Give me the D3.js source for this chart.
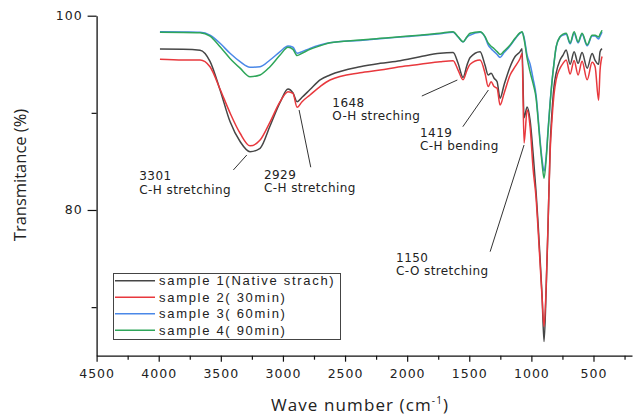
<!DOCTYPE html>
<html>
<head>
<meta charset="utf-8">
<script src="https://cdn.jsdelivr.net/npm/d3@7"></script>
<style>
  body { margin: 0; background: #fff; }
</style>
</head>
<body>
  <script>

  // wave numbers (cm-1) shared by all four spectra
    const wavenumber = [3990, 3804, 3667, 3587, 3506, 3426, 3345, 3265, 3184, 3104,
                        3023, 2959, 2919, 2886, 2846, 2782, 2701, 2621, 2379, 2218,
                        2057, 1896, 1735, 1630, 1590, 1550, 1518, 1493, 1413, 1373,
                        1348, 1324, 1300, 1276, 1252, 1220, 1171, 1131, 1091, 1075,
                        1059, 1034, 1010, 986, 962, 946, 930, 914, 898, 881,
                        865, 849, 833, 817, 801, 769, 745, 720, 688, 656,
                        624, 592, 551, 511, 487, 459, 447, 431];

  // transmitance (%) of each sample
    const sample1 = [96.57, 96.55, 96.45, 95.3, 92.35, 89.1, 87.05, 86.0, 86.35, 88.65,
                     91.07, 92.45, 92.05, 91.15, 91.6, 92.4, 93.4, 93.9, 94.75, 95.1,
                     95.37, 95.78, 96.13, 96.2, 95.1, 93.65, 94.93, 95.7, 96.3, 94.9,
                     93.9, 94.07, 93.56, 93.2, 91.5, 92.87, 94.75, 95.8, 96.3, 96.6,
                     89.5, 90.6, 89.2, 85.8, 81.8, 78.6, 75.0, 71.2, 66.45, 71.8,
                     78.8, 86.5, 90.3, 92.8, 94.07, 95.44, 95.95, 96.47, 95.0, 96.3,
                     95.1, 96.2, 94.6, 96.1, 95.4, 95.0, 96.3, 96.6];

    const sample2 = [95.51, 95.44, 95.45, 94.75, 92.43, 90.0, 87.9, 86.6, 87.2, 89.05,
                     91.15, 92.18, 92.0, 90.57, 91.15, 91.84, 92.7, 93.38, 94.13, 94.4,
                     94.75, 95.0, 95.27, 95.37, 94.4, 93.4, 94.4, 95.0, 95.44, 94.07,
                     92.7, 93.2, 92.7, 92.53, 90.8, 92.0, 93.9, 94.75, 95.6, 96.1,
                     86.9, 90.3, 88.5, 84.2, 81.2, 78.0, 74.5, 71.0, 68.0, 72.1,
                     79.0, 86.0, 89.5, 92.0, 93.4, 94.6, 95.1, 95.44, 94.0, 95.4,
                     93.9, 95.3, 93.4, 95.2, 94.75, 91.3, 94.4, 95.8];

    const sample3 = [98.35, 98.32, 98.29, 98.0, 97.16, 96.13, 95.27, 94.69, 94.75, 95.44,
                     96.3, 96.88, 96.75, 96.13, 96.3, 96.64, 96.98, 97.22, 97.45, 97.62,
                     97.8, 97.95, 98.15, 98.3, 97.8, 97.3, 97.8, 98.0, 98.3, 97.8,
                     97.0, 96.6, 96.3, 96.0, 95.7, 96.2, 96.9, 97.6, 98.2, 98.3,
                     97.8, 95.9, 95.0, 93.5, 91.8, 89.6, 87.2, 85.2, 84.0, 85.5,
                     88.4, 91.1, 93.4, 95.2, 96.7, 97.8, 98.0, 98.1, 97.1, 98.2,
                     97.2, 98.1, 96.9, 97.9, 97.9, 97.6, 97.9, 98.3];

    const sample4 = [98.29, 98.28, 98.25, 97.9, 96.8, 95.6, 94.6, 93.72, 93.9, 94.75,
                     95.95, 96.75, 96.54, 95.9, 96.13, 96.54, 96.9, 97.22, 97.5, 97.67,
                     97.84, 98.0, 98.19, 98.35, 97.84, 97.32, 97.84, 98.19, 98.35, 97.84,
                     97.2, 96.85, 96.6, 96.3, 96.0, 96.35, 96.98, 97.67, 98.25, 98.35,
                     97.6, 95.6, 94.2, 93.0, 91.5, 89.3, 86.9, 84.8, 83.26, 85.2,
                     88.2, 91.0, 93.3, 95.2, 96.8, 97.84, 98.1, 98.2, 97.2, 98.35,
                     97.3, 98.2, 97.0, 98.0, 98.0, 97.8, 98.1, 98.5];

    const seriesNames = ["sample 1(Native strach)", "sample 2( 30min)", "sample 3( 60min)", "sample 4( 90min)"];

  // tick labels
    const xTicks = [4500, 4000, 3500, 3000, 2500, 2000, 1500, 1000, 500];
    const xMinor = [4250, 3750, 3250, 2750, 2250, 1750, 1250, 750, 250];
    const yTicks = [80, 100];
    const yMinor = [70, 90];

  // peak annotations
    const peakLabels = ["3301", "2929", "1648", "1419", "1150"];
    const bondLabels = ["C-H stretching", "C-H stretching", "O-H streching", "C-H bending", "C-O stretching"];

    const colors = ["#464646", "#e8383d", "#4a88e8", "#2fa65a"];
    const series = [sample1, sample2, sample3, sample4];

    const w = 638;
    const h = 416;

    const xScale = d3.scaleLinear()
                     .domain([4500, 190])
                     .range([96.6, 632]);

    const yScale = d3.scaleLinear()
                     .domain([65, 100])
                     .range([355.7, 15.7]);

    const svg = d3.select("body")
                  .append("svg")
                  .attr("width", w)
                  .attr("height", h);

  // spectra
    const line = d3.line()
                   .x((d, i) => xScale(wavenumber[i]))
                   .y((d) => yScale(d))
                   .curve(d3.curveMonotoneX);

    svg.selectAll("path.spec")
       .data(series)
       .enter()
       .append("path")
       .attr("class", "spec")
       .attr("d", line)
       .attr("fill", "none")
       .attr("stroke", (d, i) => colors[i])
       .attr("stroke-width", 1.5)
       .attr("stroke-linejoin", "round");

  // axes
    const xAxis = d3.axisBottom(xScale)
                    .tickValues(xTicks)
                    .tickFormat(d3.format("d"))
                    .tickSize(6)
                    .tickSizeOuter(0)
                    .tickPadding(7);

    const yAxis = d3.axisLeft(yScale)
                    .tickValues(yTicks)
                    .tickSize(9)
                    .tickSizeOuter(0)
                    .tickPadding(5);

    svg.append("g")
       .attr("transform", "translate(0," + yScale(65) + ")")
       .call(xAxis);

    svg.append("g")
       .attr("transform", "translate(0," + yScale(65) + ")")
       .call(d3.axisBottom(xScale).tickValues(xMinor).tickSize(4).tickFormat("").tickSizeOuter(0))
       .select(".domain").remove();

    svg.append("g")
       .attr("transform", "translate(" + xScale(4500) + ",0)")
       .call(yAxis);

    svg.append("g")
       .attr("transform", "translate(" + xScale(4500) + ",0)")
       .call(d3.axisLeft(yScale).tickValues(yMinor).tickSize(5).tickFormat("").tickSizeOuter(0))
       .select(".domain").remove();

    svg.selectAll(".domain").attr("stroke", "#111").attr("stroke-width", 1.3);
    svg.selectAll(".tick line").attr("stroke", "#111").attr("stroke-width", 1.2);
    svg.selectAll(".tick text")
       .attr("fill", "#222")
       .style("font-family", "'DejaVu Sans', sans-serif")
       .style("font-size", "12.5px")
       .style("letter-spacing", "1px");

  // axis titles
    const xt = svg.append("text")
       .attr("x", 360)
       .attr("y", 411)
       .attr("text-anchor", "middle")
       .attr("fill", "#222")
       .style("font-family", "'Open Sans', sans-serif")
       .style("font-size", "17px")
       .style("letter-spacing", "1.1px");
    xt.append("tspan").text("Wave number (cm");
    xt.append("tspan").attr("dy", -7).style("font-size", "10px").text("-1");
    xt.append("tspan").attr("dy", 7).text(")");

    svg.append("text")
       .attr("transform", "translate(26,175) rotate(-90)")
       .attr("text-anchor", "middle")
       .attr("fill", "#222")
       .style("font-family", "'Open Sans', sans-serif")
       .style("font-size", "16.5px")
       .text("Transmitance (%)");

  // annotations: text anchor and leader line, in data units
    const notes = [
      { tx: 4156, ty: 83.04, l: [3399, 84.12, 3291, 85.66] },
      { tx: 3152, ty: 83.19, l: [2870, 90.29, 2776, 84.4] },
      { tx: 2602, ty: 90.63, l: [1882, 91.73, 1596, 93.38] },
      { tx: 1896, ty: 87.54, l: [1552, 88.57, 1346, 92.35] },
      { tx: 2089, ty: 74.68, l: [1332, 75.71, 1059, 86.69] }
    ];

    svg.selectAll("line.lead")
       .data(notes)
       .enter()
       .append("line")
       .attr("class", "lead")
       .attr("x1", (d) => xScale(d.l[0]))
       .attr("y1", (d) => yScale(d.l[1]))
       .attr("x2", (d) => xScale(d.l[2]))
       .attr("y2", (d) => yScale(d.l[3]))
       .attr("stroke", "#333")
       .attr("stroke-width", 1);

    const nt = svg.selectAll("text.note")
       .data(notes)
       .enter()
       .append("text")
       .attr("class", "note")
       .attr("fill", "#222")
       .style("font-family", "'DejaVu Sans', sans-serif")
       .style("font-size", "12px")
       .style("letter-spacing", "0.4px");

    nt.append("tspan")
      .attr("x", (d) => xScale(d.tx))
      .attr("y", (d) => yScale(d.ty))
      .text((d, i) => peakLabels[i]);

    nt.append("tspan")
      .attr("x", (d) => xScale(d.tx))
      .attr("dy", 13.5)
      .text((d, i) => bondLabels[i]);

  // legend
    const legend = svg.append("g");

    legend.append("rect")
          .attr("x", 113.5)
          .attr("y", 273.5)
          .attr("width", 227)
          .attr("height", 66)
          .attr("fill", "#fff")
          .attr("stroke", "#444")
          .attr("stroke-width", 1);

    const rows = legend.selectAll("g")
          .data(seriesNames)
          .enter()
          .append("g")
          .attr("transform", (d, i) => "translate(0," + (280.7 + i * 16.5) + ")");

    rows.append("line")
        .attr("x1", 115)
        .attr("x2", 155)
        .attr("stroke", (d, i) => colors[i])
        .attr("stroke-width", 1.5);

    rows.append("text")
        .attr("x", 159)
        .attr("dy", "0.36em")
        .attr("fill", "#222")
        .style("font-family", "'Liberation Sans', Arial, sans-serif")
        .style("font-size", "13px")
        .style("letter-spacing", "1.7px")
        .text((d) => d);

  </script>
</body>
</html>
